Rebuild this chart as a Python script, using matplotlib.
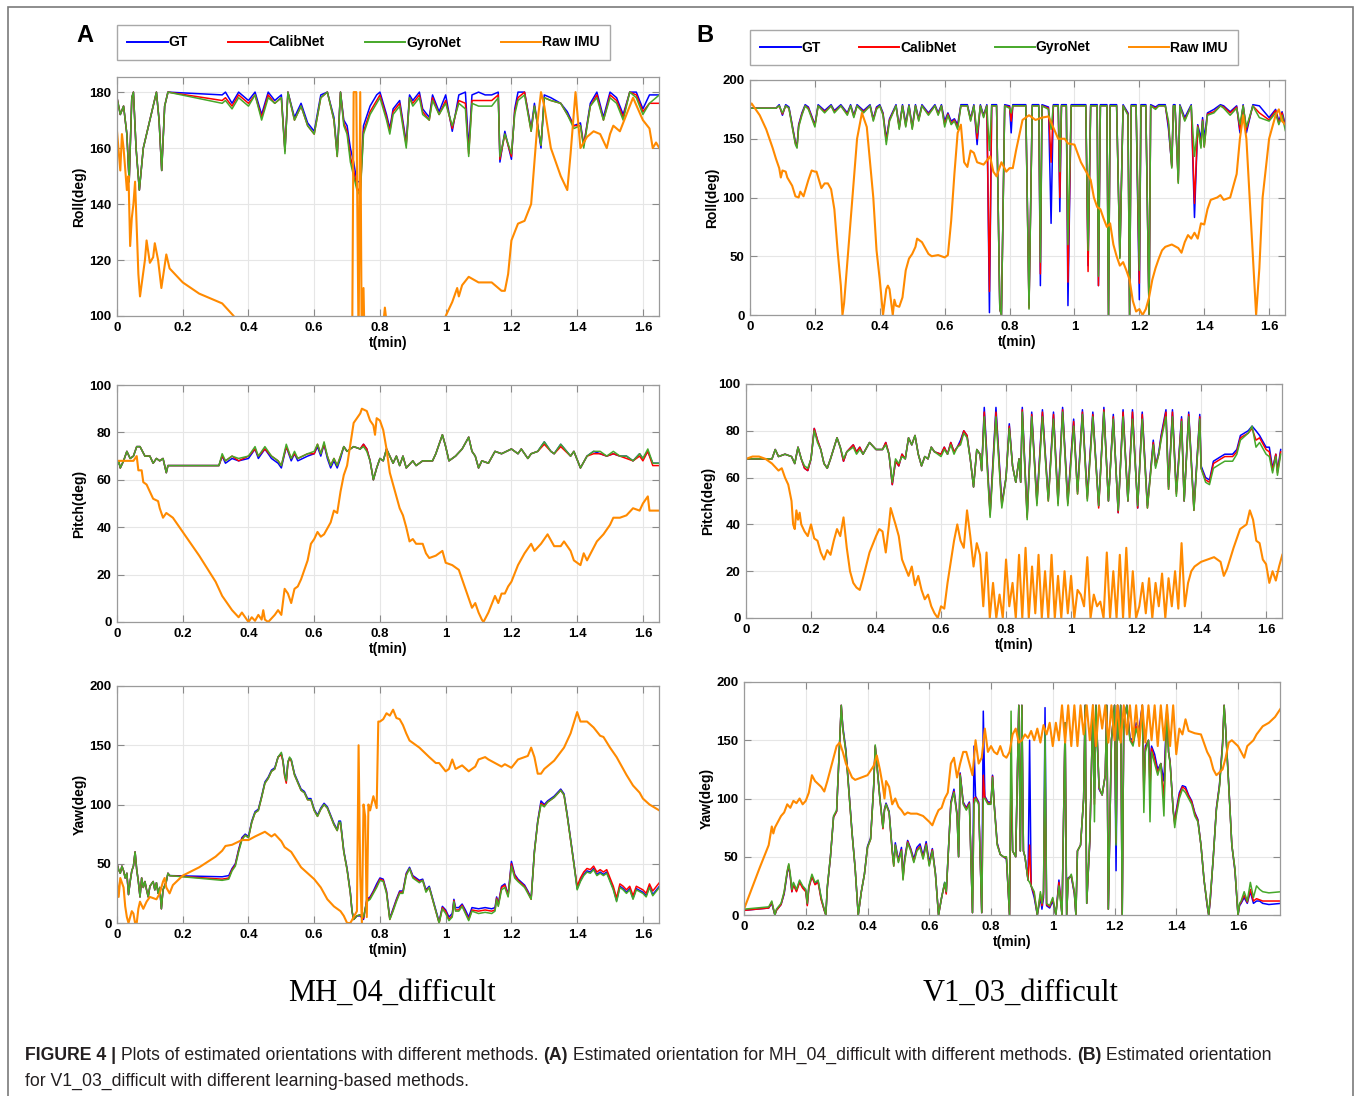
import numpy as np
import matplotlib
matplotlib.use('Agg')
import matplotlib.pyplot as plt
from matplotlib.lines import Line2D
from matplotlib.patches import Rectangle

# ---------------- data ----------------
# (A) MH_04_difficult : roll
t_roll_a = [0, 0.01, 0.02, 0.03, 0.037, 0.045, 0.05, 0.058, 0.068, 0.08,
            0.09, 0.1, 0.11, 0.12, 0.128, 0.136, 0.145, 0.155, 0.32, 0.33,
            0.35, 0.37, 0.4, 0.42, 0.44, 0.46, 0.48, 0.5, 0.511, 0.52,
            0.54, 0.56, 0.58, 0.6, 0.62, 0.64, 0.66, 0.67, 0.68, 0.69,
            0.7, 0.71, 0.72, 0.73, 0.74, 0.75, 0.77, 0.79, 0.8, 0.82,
            0.83, 0.84, 0.86, 0.88, 0.89, 0.9, 0.92, 0.93, 0.95, 0.96,
            0.98, 1.0, 1.02, 1.04, 1.06, 1.07, 1.08, 1.1, 1.12, 1.14,
            1.16, 1.165, 1.18, 1.2, 1.21, 1.22, 1.24, 1.26, 1.27, 1.29,
            1.3, 1.32, 1.35, 1.37, 1.39, 1.41, 1.42, 1.44, 1.46, 1.48,
            1.5, 1.52, 1.54, 1.56, 1.58, 1.6, 1.62, 1.65]
roll_a_gt = [178, 172, 175, 165, 148, 178, 180, 160, 145, 160,
             165, 170, 175, 180, 170, 152, 175, 180, 179, 180,
             176, 180, 177, 180, 172, 180, 177, 179, 159, 180,
             171, 176, 169, 166, 179, 180, 171, 158, 180, 170,
             168, 160, 155, 148, 148, 168, 175, 179, 180, 172,
             167, 174, 177, 162, 179, 177, 180, 174, 171, 179,
             173, 179, 166, 179, 180, 160, 179, 180, 179, 179,
             180, 155, 166, 156, 174, 180, 180, 167, 176, 160,
             179, 178, 176, 173, 168, 169, 161, 176, 180, 171,
             180, 178, 172, 180, 180, 174, 179, 179]
roll_a_calib = [178, 172, 175, 165, 148, 178, 180, 160, 145, 160,
                165, 170, 175, 180, 170, 152, 175, 180, 177, 178,
                175, 179, 176, 179, 171, 179, 176, 178, 159, 180,
                170, 175, 168, 165, 178, 180, 170, 157, 180, 169,
                166, 157, 152, 146, 144, 166, 173, 177, 179, 171,
                166, 173, 176, 161, 178, 176, 179, 173, 170, 178,
                172, 177, 167, 177, 176, 158, 177, 177, 177, 177,
                179, 156, 165, 157, 173, 178, 180, 166, 175, 161,
                178, 177, 176, 172, 168, 168, 161, 175, 179, 170,
                179, 177, 171, 180, 179, 173, 176, 176]
roll_a_gyro = [178, 172, 175, 165, 148, 178, 180, 160, 145, 160,
               165, 170, 175, 180, 170, 152, 175, 180, 176, 177,
               174, 178, 175, 179, 170, 178, 176, 178, 158, 180,
               170, 175, 168, 165, 178, 180, 170, 157, 180, 168,
               165, 155, 150, 145, 143, 165, 172, 176, 178, 170,
               165, 172, 175, 160, 178, 175, 178, 172, 170, 177,
               172, 176, 168, 176, 174, 157, 176, 175, 175, 175,
               178, 157, 165, 158, 172, 177, 179, 166, 175, 161,
               178, 177, 176, 172, 167, 168, 160, 175, 178, 170,
               178, 176, 170, 180, 178, 172, 176, 179]
t_roll_a_raw = [0, 0.01, 0.015, 0.02, 0.03, 0.035, 0.04, 0.045, 0.05, 0.055,
                0.065, 0.07, 0.085, 0.09, 0.1, 0.11, 0.115, 0.125, 0.135, 0.15,
                0.16, 0.2, 0.25, 0.3, 0.32, 0.355, 0.4, 0.6, 0.715, 0.72,
                0.728, 0.735, 0.74, 0.745, 0.75, 0.755, 0.8, 0.815, 0.82, 0.83,
                0.9, 0.99, 1.0, 1.02, 1.035, 1.04, 1.05, 1.07, 1.1, 1.14,
                1.15, 1.17, 1.18, 1.19, 1.2, 1.22, 1.24, 1.26, 1.27, 1.28,
                1.29, 1.3, 1.32, 1.35, 1.37, 1.38, 1.395, 1.41, 1.43, 1.45,
                1.47, 1.49, 1.5, 1.51, 1.53, 1.55, 1.57, 1.6, 1.62, 1.63,
                1.64, 1.65]
roll_a_raw = [166, 152, 165, 160, 145, 150, 125, 135, 140, 148,
              115, 107, 120, 127, 119, 121, 126, 120, 110, 122,
              117, 112, 108, 105.5, 104.5, 100, 80, 60, 80, 180,
              180, 90, 180, 80, 110, 80, 85, 103, 98, 85,
              80, 95, 100, 105, 110, 107, 111, 114, 112, 112,
              111, 109, 109, 115, 127, 133, 134, 140, 155, 170,
              180, 175, 160, 150, 145, 158, 180, 160, 164, 166,
              165, 160, 165, 168, 166, 172, 178, 170, 167, 160,
              162, 160]

# (A) pitch
t_pitch_a = [0, 0.005, 0.01, 0.02, 0.03, 0.04, 0.05, 0.06, 0.07, 0.085,
             0.1, 0.11, 0.12, 0.13, 0.14, 0.15, 0.155, 0.31, 0.32, 0.33,
             0.35, 0.37, 0.4, 0.42, 0.43, 0.45, 0.47, 0.49, 0.5, 0.515,
             0.53, 0.54, 0.55, 0.58, 0.6, 0.61, 0.62, 0.63, 0.64, 0.65,
             0.66, 0.67, 0.68, 0.69, 0.7, 0.72, 0.74, 0.75, 0.76, 0.77,
             0.78, 0.79, 0.8, 0.81, 0.82, 0.83, 0.84, 0.85, 0.86, 0.87,
             0.88, 0.9, 0.91, 0.93, 0.96, 0.97, 0.99, 1.0, 1.01, 1.03,
             1.05, 1.07, 1.08, 1.09, 1.1, 1.11, 1.13, 1.15, 1.17, 1.2,
             1.22, 1.23, 1.25, 1.26, 1.28, 1.3, 1.32, 1.33, 1.35, 1.38,
             1.39, 1.41, 1.43, 1.45, 1.47, 1.49, 1.51, 1.53, 1.55, 1.57,
             1.59, 1.6, 1.615, 1.63, 1.65]
pitch_a_gt = [66, 68, 65, 68, 72, 69, 70, 74, 74, 70,
              70, 67, 69, 68, 69, 63, 66, 66, 70, 67,
              69, 68, 69, 73, 69, 73, 69, 67, 65, 74,
              68, 71, 68, 70, 71, 74, 70, 75, 69, 65,
              68, 65, 69, 74, 72, 74, 73, 75, 73, 68,
              60, 65, 69, 68, 73, 70, 67, 70, 66, 70,
              65, 68, 66, 68, 68, 71, 79, 74, 68, 70,
              73, 78, 72, 70, 65, 68, 67, 72, 71, 73,
              71, 73, 69, 71, 72, 76, 72, 71, 75, 70,
              72, 65, 70, 72, 71, 70, 71, 70, 70, 68,
              71, 69, 72, 67, 67]
pitch_a_calib = [66, 68, 65, 68, 72, 69, 70, 74, 74, 70,
                 70, 67, 69, 68, 69, 63, 66, 66, 70, 68,
                 70, 68, 70, 73, 70, 73, 70, 68, 66, 74,
                 69, 71, 69, 71, 71, 75, 71, 75, 70, 66,
                 69, 66, 70, 74, 72, 74, 73, 75, 73, 68,
                 60, 65, 69, 68, 73, 70, 67, 70, 66, 70,
                 65, 68, 66, 68, 68, 71, 79, 74, 68, 70,
                 73, 78, 72, 70, 65, 68, 67, 72, 71, 73,
                 71, 73, 69, 71, 72, 75, 72, 71, 74, 70,
                 72, 65, 70, 71, 71, 70, 71, 70, 69, 68,
                 70, 68, 72, 66, 66]
pitch_a_gyro = [66, 68, 65, 68, 72, 69, 70, 74, 74, 70,
                70, 67, 69, 68, 69, 63, 66, 66, 71, 68,
                70, 69, 70, 74, 70, 74, 70, 68, 66, 75,
                69, 72, 69, 71, 72, 75, 71, 76, 70, 66,
                69, 66, 70, 74, 72, 74, 73, 74, 72, 68,
                60, 65, 69, 68, 73, 70, 67, 70, 66, 70,
                65, 68, 66, 68, 68, 71, 79, 74, 68, 70,
                73, 78, 72, 70, 65, 68, 67, 72, 71, 73,
                71, 73, 69, 71, 72, 76, 72, 71, 75, 70,
                72, 65, 70, 72, 72, 70, 72, 70, 70, 68,
                71, 69, 73, 67, 67]
t_pitch_a_raw = [0, 0.05, 0.06, 0.065, 0.075, 0.08, 0.09, 0.1, 0.11, 0.125,
                 0.13, 0.14, 0.15, 0.17, 0.2, 0.25, 0.3, 0.32, 0.35, 0.37,
                 0.38, 0.39, 0.4, 0.41, 0.42, 0.43, 0.44, 0.445, 0.45, 0.46,
                 0.48, 0.49, 0.5, 0.51, 0.52, 0.53, 0.54, 0.55, 0.56, 0.58,
                 0.59, 0.6, 0.61, 0.62, 0.63, 0.65, 0.66, 0.67, 0.68, 0.69,
                 0.7, 0.71, 0.72, 0.74, 0.745, 0.76, 0.77, 0.78, 0.785, 0.79,
                 0.8, 0.81, 0.82, 0.83, 0.84, 0.86, 0.87, 0.88, 0.89, 0.9,
                 0.91, 0.93, 0.94, 0.95, 0.97, 0.99, 1.0, 1.02, 1.03, 1.04,
                 1.06, 1.08, 1.09, 1.1, 1.11, 1.115, 1.13, 1.15, 1.16, 1.17,
                 1.18, 1.19, 1.2, 1.22, 1.24, 1.26, 1.27, 1.29, 1.31, 1.33,
                 1.35, 1.36, 1.38, 1.39, 1.41, 1.42, 1.43, 1.46, 1.48, 1.5,
                 1.51, 1.53, 1.55, 1.57, 1.59, 1.6, 1.615, 1.62, 1.63, 1.65]
pitch_a_raw = [68, 68, 70, 64, 64, 59, 58, 55, 52, 51,
               48, 44, 46, 44, 38, 28, 17, 11, 5, 2,
               4, 2, 0, 2, 0.5, 3, 1, 5, 1, 0,
               3, 5, 3, 14, 12, 8, 14, 15, 18, 26,
               33, 35, 38, 36, 37, 42, 47, 46, 55, 62,
               66, 75, 84, 88, 90, 89, 85, 83, 79, 86,
               85, 81, 73, 63, 58, 48, 45, 40, 34, 35,
               33, 33, 29, 27, 28, 30, 25, 24, 23, 22,
               14, 6, 8, 4, 1, 0, 4, 11, 8, 12,
               12, 15, 17, 24, 29, 33, 30, 33, 37, 32,
               32, 34, 30, 26, 24, 29, 26, 34, 37, 41,
               44, 44, 45, 48, 47, 50, 53, 47, 47, 47]

# (A) yaw
t_yaw_a = [0, 0.005, 0.01, 0.015, 0.02, 0.025, 0.03, 0.035, 0.04, 0.045,
           0.05, 0.055, 0.06, 0.065, 0.07, 0.075, 0.08, 0.085, 0.09, 0.095,
           0.1, 0.11, 0.115, 0.12, 0.125, 0.13, 0.135, 0.14, 0.15, 0.155,
           0.16, 0.32, 0.34, 0.35, 0.36, 0.37, 0.38, 0.39, 0.4, 0.41,
           0.42, 0.43, 0.44, 0.45, 0.46, 0.47, 0.48, 0.49, 0.5, 0.505,
           0.51, 0.515, 0.52, 0.525, 0.53, 0.54, 0.56, 0.57, 0.58, 0.59,
           0.6, 0.61, 0.62, 0.63, 0.64, 0.65, 0.66, 0.67, 0.675, 0.68,
           0.69, 0.7, 0.71, 0.715, 0.72, 0.73, 0.74, 0.75, 0.76, 0.77,
           0.78, 0.79, 0.8, 0.81, 0.82, 0.83, 0.84, 0.85, 0.86, 0.87,
           0.88, 0.89, 0.9, 0.91, 0.92, 0.93, 0.94, 0.95, 0.96, 0.97,
           0.98, 0.99, 1.0, 1.01, 1.02, 1.025, 1.03, 1.04, 1.05, 1.06,
           1.07, 1.08, 1.1, 1.12, 1.14, 1.15, 1.155, 1.16, 1.17, 1.18,
           1.19, 1.2, 1.21, 1.22, 1.24, 1.25, 1.26, 1.27, 1.28, 1.29,
           1.3, 1.31, 1.33, 1.35, 1.36, 1.37, 1.38, 1.39, 1.4, 1.41,
           1.42, 1.43, 1.44, 1.45, 1.46, 1.47, 1.48, 1.49, 1.5, 1.51,
           1.52, 1.53, 1.54, 1.55, 1.56, 1.57, 1.58, 1.6, 1.61, 1.62,
           1.63, 1.65]
yaw_a_gt = [50, 45, 42, 48, 44, 38, 42, 24, 35, 44,
            48, 60, 45, 35, 22, 38, 30, 35, 28, 22,
            31, 35, 28, 34, 25, 30, 12, 28, 35, 42,
            40, 39, 40, 46, 50, 62, 72, 75, 73, 86,
            94, 96, 107, 119, 123, 129, 131, 140, 143, 137,
            126, 120, 136, 139, 138, 126, 113, 111, 105, 105,
            96, 91, 97, 101, 98, 91, 84, 79, 86, 86,
            61, 46, 26, 10, 3, 6, 6, 3, 20, 22,
            27, 33, 38, 37, 27, 4, 12, 20, 27, 27,
            42, 47, 40, 38, 36, 37, 28, 31, 21, 11,
            1, 14, 11, 5, 8, 20, 13, 13, 16, 11,
            5, 13, 12, 13, 12, 13, 22, 16, 31, 33,
            24, 52, 41, 37, 32, 27, 21, 61, 86, 103,
            100, 103, 107, 113, 109, 91, 71, 51, 29, 36,
            41, 44, 43, 46, 41, 43, 41, 43, 36, 29,
            19, 31, 29, 26, 29, 21, 29, 26, 23, 31,
            24, 31]
yaw_a_calib = [50, 45, 42, 48, 44, 38, 42, 24, 35, 44,
               48, 60, 45, 35, 22, 38, 30, 35, 28, 22,
               31, 35, 28, 34, 25, 30, 12, 28, 35, 42,
               40, 37, 38, 45, 49, 61, 71, 74, 72, 85,
               93, 95, 106, 118, 122, 128, 130, 140, 142, 136,
               124, 118, 135, 139, 137, 125, 112, 110, 104, 104,
               95, 90, 96, 100, 97, 90, 83, 78, 84, 84,
               60, 45, 25, 10, 3, 6, 7, 4, 19, 21,
               26, 31, 37, 36, 26, 3, 11, 19, 26, 26,
               41, 46, 39, 37, 35, 36, 27, 30, 20, 10,
               0, 13, 10, 3, 6, 19, 11, 11, 15, 9,
               3, 11, 10, 11, 10, 11, 21, 15, 30, 32,
               23, 50, 40, 36, 31, 26, 20, 60, 85, 101,
               99, 102, 106, 112, 108, 90, 70, 50, 31, 38,
               43, 46, 45, 48, 43, 45, 43, 45, 38, 31,
               21, 33, 31, 28, 31, 23, 31, 28, 25, 33,
               27, 34]
yaw_a_gyro = [50, 45, 42, 48, 44, 38, 42, 24, 35, 44,
              48, 60, 45, 35, 22, 38, 30, 35, 28, 22,
              31, 35, 28, 34, 25, 30, 12, 28, 35, 42,
              40, 36, 37, 44, 48, 60, 70, 74, 72, 85,
              93, 95, 106, 118, 122, 128, 130, 140, 144, 137,
              125, 120, 136, 140, 138, 125, 112, 110, 104, 104,
              95, 90, 96, 100, 97, 90, 83, 78, 85, 85,
              60, 45, 25, 10, 3, 6, 7, 5, 18, 20,
              25, 30, 36, 35, 25, 3, 10, 18, 25, 25,
              40, 46, 38, 36, 34, 36, 26, 30, 20, 10,
              0, 12, 8, 2, 5, 18, 10, 10, 14, 8,
              2, 10, 8, 9, 8, 10, 20, 14, 28, 30,
              22, 48, 38, 35, 30, 25, 20, 60, 85, 100,
              98, 102, 106, 112, 108, 90, 70, 50, 28, 35,
              40, 43, 42, 45, 40, 42, 40, 42, 35, 28,
              18, 30, 28, 25, 28, 20, 28, 25, 22, 30,
              23, 30]
t_yaw_a_raw = [0, 0.005, 0.01, 0.02, 0.025, 0.03, 0.035, 0.04, 0.045, 0.05,
               0.055, 0.06, 0.065, 0.07, 0.08, 0.09, 0.1, 0.12, 0.13, 0.14,
               0.145, 0.15, 0.16, 0.17, 0.2, 0.25, 0.3, 0.32, 0.33, 0.35,
               0.38, 0.4, 0.42, 0.45, 0.47, 0.48, 0.5, 0.51, 0.53, 0.56,
               0.58, 0.6, 0.62, 0.64, 0.66, 0.68, 0.69, 0.7, 0.71, 0.72,
               0.73, 0.735, 0.74, 0.745, 0.75, 0.755, 0.76, 0.765, 0.77, 0.78,
               0.79, 0.795, 0.8, 0.81, 0.82, 0.83, 0.84, 0.85, 0.86, 0.87,
               0.88, 0.89, 0.9, 0.92, 0.95, 0.97, 0.98, 1.0, 1.01, 1.02,
               1.03, 1.05, 1.07, 1.09, 1.1, 1.12, 1.13, 1.15, 1.17, 1.18,
               1.2, 1.22, 1.25, 1.26, 1.27, 1.28, 1.29, 1.3, 1.33, 1.36,
               1.38, 1.4, 1.41, 1.43, 1.45, 1.47, 1.48, 1.5, 1.52, 1.53,
               1.55, 1.57, 1.59, 1.6, 1.62, 1.65]
yaw_a_raw = [35, 22, 38, 30, 14, 5, 0, 5, 10, 8,
             0, 0, 12, 18, 12, 18, 22, 20, 25, 35,
             38, 30, 25, 32, 40, 47, 56, 61, 65, 66,
             70, 70, 73, 77, 73, 75, 69, 64, 60, 47,
             42, 37, 30, 20, 14, 10, 6, 0, 0, 5,
             10, 150, 40, 0, 100, 90, 5, 100, 95, 107,
             97, 170, 170, 172, 177, 175, 180, 173, 172, 167,
             160, 154, 152, 148, 140, 135, 135, 128, 130, 138,
             130, 133, 128, 132, 138, 140, 138, 135, 132, 134,
             131, 138, 141, 148, 140, 126, 126, 130, 137, 148,
             160, 178, 170, 170, 165, 158, 157, 148, 140, 135,
             125, 116, 110, 105, 100, 95]

# (B) V1_03_difficult : roll
t_roll_b = [0, 0.08, 0.09, 0.1, 0.11, 0.12, 0.13, 0.14, 0.145, 0.15,
            0.16, 0.17, 0.18, 0.2, 0.21, 0.23, 0.25, 0.26, 0.28, 0.3,
            0.31, 0.32, 0.33, 0.35, 0.37, 0.38, 0.39, 0.4, 0.41, 0.42,
            0.43, 0.45, 0.46, 0.47, 0.48, 0.49, 0.5, 0.51, 0.52, 0.53,
            0.55, 0.57, 0.58, 0.59, 0.6, 0.61, 0.62, 0.63, 0.64, 0.65,
            0.67, 0.68, 0.69, 0.7, 0.71, 0.72, 0.73, 0.738, 0.745, 0.76,
            0.77, 0.775, 0.785, 0.8, 0.805, 0.81, 0.85, 0.86, 0.87, 0.89,
            0.895, 0.9, 0.92, 0.928, 0.935, 0.95, 0.955, 0.96, 0.975, 0.98,
            0.99, 1.02, 1.035, 1.042, 1.05, 1.07, 1.074, 1.08, 1.1, 1.105,
            1.11, 1.13, 1.14, 1.15, 1.165, 1.17, 1.175, 1.19, 1.2, 1.205,
            1.22, 1.23, 1.235, 1.25, 1.26, 1.28, 1.29, 1.3, 1.305, 1.31,
            1.32, 1.325, 1.34, 1.36, 1.37, 1.38, 1.39, 1.395, 1.4, 1.41,
            1.43, 1.45, 1.46, 1.48, 1.5, 1.51, 1.52, 1.53, 1.55, 1.57,
            1.6, 1.62, 1.63, 1.64, 1.65]
roll_b_gt = [176, 176, 179, 170, 179, 177, 162, 147, 144, 162,
             172, 179, 177, 162, 179, 174, 179, 174, 179, 172,
             179, 170, 179, 174, 179, 167, 177, 179, 172, 150,
             167, 179, 160, 179, 163, 179, 160, 179, 167, 179,
             172, 179, 172, 179, 165, 172, 165, 167, 162, 179,
             179, 167, 179, 145, 179, 170, 179, 2, 179, 179,
             5, 0, 179, 178, 155, 179, 179, 8, 179, 179,
             25, 179, 177, 78, 179, 179, 88, 179, 179, 8,
             179, 179, 179, 42, 179, 179, 25, 179, 179, 0,
             179, 179, 50, 179, 172, 0, 179, 179, 13, 179,
             179, 0, 179, 177, 179, 179, 158, 127, 179, 179,
             115, 179, 168, 179, 83, 162, 150, 168, 150, 172,
             175, 179, 178, 173, 178, 155, 179, 155, 179, 178,
             168, 175, 165, 173, 162]
roll_b_calib = [176, 176, 178, 171, 178, 176, 161, 146, 143, 161,
                171, 178, 176, 161, 178, 173, 178, 173, 178, 171,
                178, 169, 178, 173, 178, 166, 176, 178, 171, 148,
                166, 178, 159, 178, 161, 178, 159, 178, 166, 178,
                171, 178, 171, 178, 162, 171, 163, 166, 160, 178,
                178, 166, 178, 150, 178, 169, 178, 20, 178, 178,
                5, 0, 178, 177, 165, 178, 178, 6, 178, 178,
                35, 178, 176, 130, 178, 178, 100, 178, 178, 28,
                178, 178, 178, 37, 178, 178, 25, 178, 178, 0,
                178, 178, 49, 178, 171, 0, 178, 178, 27, 178,
                178, 0, 178, 176, 178, 178, 162, 126, 178, 178,
                113, 178, 166, 178, 95, 161, 144, 166, 143, 171,
                173, 178, 177, 172, 177, 158, 178, 158, 178, 172,
                166, 174, 163, 172, 160]
roll_b_gyro = [176, 176, 178, 172, 178, 176, 160, 145, 142, 160,
               170, 178, 175, 160, 178, 172, 178, 172, 178, 170,
               178, 168, 178, 172, 178, 165, 175, 178, 170, 145,
               165, 178, 158, 178, 160, 178, 158, 178, 165, 178,
               170, 178, 170, 178, 160, 170, 162, 165, 158, 178,
               178, 165, 178, 155, 178, 168, 178, 140, 178, 178,
               5, 0, 178, 176, 172, 178, 178, 5, 178, 178,
               45, 178, 175, 158, 178, 178, 122, 178, 178, 60,
               178, 178, 178, 55, 178, 178, 33, 178, 178, 0,
               178, 178, 48, 178, 170, 0, 178, 178, 38, 178,
               178, 0, 178, 175, 178, 178, 165, 125, 178, 178,
               112, 178, 165, 178, 135, 160, 142, 165, 143, 170,
               172, 178, 176, 170, 176, 162, 178, 160, 178, 168,
               165, 172, 162, 170, 157]
t_roll_b_raw = [0, 0.005, 0.01, 0.03, 0.05, 0.07, 0.08, 0.09, 0.095, 0.1,
                0.11, 0.115, 0.13, 0.14, 0.15, 0.155, 0.165, 0.18, 0.19, 0.2,
                0.205, 0.22, 0.23, 0.24, 0.25, 0.26, 0.27, 0.28, 0.285, 0.29,
                0.31, 0.33, 0.345, 0.36, 0.37, 0.38, 0.39, 0.4, 0.41, 0.42,
                0.425, 0.43, 0.44, 0.445, 0.45, 0.46, 0.47, 0.48, 0.49, 0.5,
                0.51, 0.515, 0.53, 0.55, 0.56, 0.58, 0.6, 0.61, 0.62, 0.63,
                0.64, 0.65, 0.66, 0.67, 0.68, 0.69, 0.7, 0.72, 0.74, 0.75,
                0.76, 0.775, 0.79, 0.8, 0.81, 0.82, 0.84, 0.86, 0.88, 0.9,
                0.92, 0.95, 0.97, 0.98, 1.0, 1.02, 1.04, 1.05, 1.06, 1.07,
                1.08, 1.09, 1.1, 1.11, 1.12, 1.13, 1.14, 1.15, 1.16, 1.17,
                1.18, 1.19, 1.2, 1.21, 1.22, 1.23, 1.24, 1.25, 1.26, 1.27,
                1.28, 1.3, 1.32, 1.33, 1.34, 1.35, 1.36, 1.37, 1.38, 1.39,
                1.4, 1.41, 1.42, 1.44, 1.45, 1.46, 1.48, 1.5, 1.51, 1.52,
                1.53, 1.54, 1.55, 1.56, 1.57, 1.58, 1.6, 1.62, 1.63, 1.64,
                1.65]
roll_b_raw = [178, 180, 178, 170, 158, 142, 133, 125, 117, 123,
              122, 117, 110, 101, 100, 105, 101, 115, 123, 122,
              122, 108, 112, 112, 107, 90, 55, 25, 0, 10,
              80, 150, 172, 160, 130, 100, 55, 30, 0, 22,
              25, 22, 0, 13, 8, 7, 15, 38, 48, 52,
              58, 65, 62, 52, 50, 51, 49, 51, 80, 120,
              155, 162, 130, 126, 140, 138, 130, 128, 135, 122,
              118, 130, 122, 125, 125, 140, 166, 170, 166, 168,
              169, 150, 150, 146, 145, 130, 120, 115, 100, 92,
              90, 82, 75, 78, 60, 50, 42, 45, 38, 30,
              12, 3, 5, 0, 5, 15, 30, 40, 48, 55,
              58, 60, 57, 53, 62, 68, 65, 70, 65, 78,
              77, 90, 98, 100, 102, 98, 100, 120, 150, 170,
              150, 100, 50, 0, 40, 100, 150, 170, 175, 165,
              162]

# (B) pitch
t_pitch_b = [0, 0.08, 0.09, 0.1, 0.12, 0.14, 0.15, 0.16, 0.17, 0.18,
             0.19, 0.2, 0.21, 0.22, 0.23, 0.24, 0.25, 0.26, 0.28, 0.29,
             0.3, 0.31, 0.33, 0.34, 0.35, 0.36, 0.38, 0.4, 0.42, 0.43,
             0.44, 0.45, 0.46, 0.47, 0.48, 0.49, 0.5, 0.51, 0.52, 0.53,
             0.54, 0.55, 0.56, 0.57, 0.58, 0.6, 0.61, 0.62, 0.63, 0.64,
             0.65, 0.66, 0.67, 0.68, 0.69, 0.7, 0.71, 0.72, 0.725, 0.733,
             0.751, 0.769, 0.787, 0.8, 0.81, 0.82, 0.83, 0.84, 0.845, 0.85,
             0.865, 0.879, 0.895, 0.912, 0.93, 0.946, 0.96, 0.974, 0.99, 1.008,
             1.02, 1.035, 1.05, 1.067, 1.085, 1.101, 1.115, 1.13, 1.145, 1.16,
             1.175, 1.189, 1.205, 1.219, 1.235, 1.253, 1.26, 1.27, 1.277, 1.292,
             1.3, 1.312, 1.324, 1.34, 1.348, 1.362, 1.378, 1.396, 1.4, 1.414,
             1.426, 1.438, 1.461, 1.473, 1.497, 1.51, 1.521, 1.545, 1.557, 1.569,
             1.58, 1.6, 1.61, 1.62, 1.63, 1.635, 1.645]
pitch_b_gt = [68, 68, 72, 69, 70, 69, 66, 73, 68, 64,
              63, 68, 81, 76, 72, 66, 64, 68, 77, 73,
              67, 71, 74, 71, 73, 70, 75, 72, 72, 75,
              70, 57, 67, 65, 70, 68, 77, 74, 78, 70,
              65, 69, 68, 73, 71, 70, 73, 70, 75, 71,
              73, 76, 80, 78, 68, 56, 72, 70, 63, 90,
              45, 90, 49, 60, 83, 65, 58, 68, 58, 90,
              44, 88, 50, 89, 51, 88, 50, 90, 50, 85,
              54, 89, 52, 88, 48, 90, 50, 87, 45, 89,
              50, 89, 47, 88, 48, 76, 65, 71, 78, 89,
              56, 89, 54, 86, 50, 88, 47, 87, 65, 60,
              59, 67, 69, 70, 70, 72, 78, 80, 82, 80,
              78, 73, 73, 64, 70, 63, 72]
pitch_b_calib = [68, 68, 72, 69, 70, 69, 66, 73, 68, 64,
                 63, 68, 81, 76, 72, 66, 64, 68, 77, 73,
                 67, 71, 74, 71, 73, 70, 75, 72, 72, 75,
                 70, 57, 67, 65, 70, 68, 77, 74, 78, 70,
                 65, 69, 68, 73, 71, 70, 73, 70, 75, 71,
                 73, 75, 80, 78, 68, 56, 72, 70, 63, 88,
                 44, 88, 48, 60, 82, 65, 58, 68, 58, 89,
                 43, 87, 49, 88, 50, 87, 49, 89, 49, 84,
                 53, 88, 51, 87, 47, 89, 50, 86, 45, 88,
                 50, 88, 47, 87, 47, 75, 65, 70, 77, 88,
                 55, 88, 53, 85, 50, 87, 46, 86, 64, 59,
                 58, 66, 68, 69, 69, 71, 77, 79, 81, 76,
                 77, 72, 71, 63, 70, 62, 71]
pitch_b_gyro = [68, 68, 72, 69, 70, 69, 66, 73, 68, 65,
                64, 68, 80, 75, 72, 66, 64, 68, 77, 73,
                68, 71, 73, 70, 72, 70, 75, 72, 72, 74,
                70, 58, 68, 66, 69, 68, 77, 74, 78, 70,
                65, 69, 68, 73, 71, 69, 72, 70, 74, 70,
                73, 74, 79, 77, 68, 56, 72, 70, 63, 86,
                43, 86, 47, 60, 81, 65, 58, 68, 58, 88,
                42, 86, 48, 86, 50, 85, 48, 88, 48, 82,
                53, 87, 50, 86, 48, 88, 50, 85, 46, 86,
                50, 85, 48, 85, 47, 74, 64, 70, 76, 86,
                55, 86, 52, 84, 50, 86, 46, 85, 64, 58,
                57, 64, 66, 67, 67, 70, 76, 79, 82, 73,
                75, 70, 69, 62, 69, 61, 70]
t_pitch_b_raw = [0, 0.02, 0.04, 0.06, 0.08, 0.1, 0.11, 0.12, 0.13, 0.14,
                 0.145, 0.15, 0.155, 0.16, 0.165, 0.17, 0.18, 0.19, 0.2, 0.21,
                 0.22, 0.23, 0.24, 0.25, 0.26, 0.27, 0.28, 0.29, 0.3, 0.31,
                 0.32, 0.33, 0.34, 0.35, 0.36, 0.38, 0.4, 0.41, 0.42, 0.43,
                 0.44, 0.445, 0.46, 0.47, 0.48, 0.5, 0.51, 0.52, 0.53, 0.54,
                 0.55, 0.56, 0.57, 0.58, 0.59, 0.6, 0.61, 0.62, 0.64, 0.65,
                 0.66, 0.67, 0.68, 0.69, 0.7, 0.71, 0.72, 0.73, 0.74, 0.75,
                 0.76, 0.77, 0.78, 0.79, 0.8, 0.81, 0.82, 0.83, 0.84, 0.85,
                 0.86, 0.87, 0.88, 0.89, 0.9, 0.91, 0.92, 0.93, 0.94, 0.95,
                 0.96, 0.97, 0.98, 0.99, 1.0, 1.01, 1.02, 1.03, 1.04, 1.05,
                 1.06, 1.07, 1.08, 1.09, 1.1, 1.11, 1.12, 1.13, 1.14, 1.15,
                 1.16, 1.17, 1.18, 1.19, 1.2, 1.21, 1.22, 1.23, 1.24, 1.25,
                 1.26, 1.27, 1.28, 1.29, 1.3, 1.31, 1.32, 1.33, 1.34, 1.35,
                 1.36, 1.37, 1.38, 1.39, 1.4, 1.42, 1.44, 1.46, 1.47, 1.48,
                 1.5, 1.52, 1.54, 1.55, 1.56, 1.57, 1.58, 1.59, 1.6, 1.61,
                 1.62, 1.63, 1.64, 1.65]
pitch_b_raw = [68, 69, 69, 68, 66, 63, 64, 60, 57, 50,
               40, 38, 46, 42, 45, 40, 37, 35, 40, 34,
               33, 28, 25, 29, 27, 33, 38, 35, 43, 30,
               20, 15, 13, 12, 17, 28, 35, 38, 37, 28,
               40, 47, 40, 35, 25, 18, 22, 14, 18, 12,
               8, 10, 5, 2, 0, 5, 4, 15, 33, 40,
               33, 30, 46, 35, 22, 32, 27, 5, 28, 0,
               15, 0, 10, 0, 25, 5, 15, 0, 27, 0,
               30, 0, 22, 2, 27, 0, 20, 0, 27, 0,
               18, 0, 20, 2, 18, 0, 12, 10, 5, 26,
               0, 10, 5, 7, 0, 28, 0, 20, 0, 27,
               0, 30, 0, 20, 0, 5, 15, 2, 17, 0,
               15, 5, 19, 0, 17, 5, 20, 4, 32, 5,
               15, 20, 22, 23, 24, 25, 26, 24, 18, 21,
               30, 38, 40, 46, 42, 33, 32, 25, 23, 15,
               20, 16, 22, 27]

# (B) yaw
t_yaw_b = [0, 0.08, 0.09, 0.1, 0.105, 0.12, 0.13, 0.14, 0.145, 0.15,
           0.155, 0.16, 0.17, 0.18, 0.19, 0.2, 0.205, 0.21, 0.22, 0.23,
           0.24, 0.25, 0.26, 0.265, 0.27, 0.28, 0.29, 0.3, 0.31, 0.315,
           0.32, 0.33, 0.34, 0.35, 0.36, 0.37, 0.38, 0.39, 0.4, 0.41,
           0.42, 0.425, 0.43, 0.44, 0.45, 0.455, 0.46, 0.47, 0.48, 0.485,
           0.49, 0.5, 0.51, 0.515, 0.52, 0.53, 0.54, 0.55, 0.56, 0.57,
           0.58, 0.59, 0.6, 0.61, 0.62, 0.63, 0.64, 0.65, 0.655, 0.66,
           0.67, 0.68, 0.69, 0.695, 0.7, 0.71, 0.72, 0.73, 0.74, 0.745,
           0.75, 0.76, 0.77, 0.775, 0.78, 0.79, 0.8, 0.805, 0.81, 0.82,
           0.83, 0.84, 0.85, 0.86, 0.865, 0.87, 0.88, 0.89, 0.895, 0.9,
           0.905, 0.91, 0.92, 0.925, 0.93, 0.94, 0.95, 0.96, 0.965, 0.97,
           0.975, 0.98, 0.99, 1.0, 1.01, 1.02, 1.03, 1.04, 1.045, 1.05,
           1.06, 1.07, 1.075, 1.08, 1.09, 1.1, 1.105, 1.11, 1.12, 1.13,
           1.135, 1.14, 1.15, 1.16, 1.17, 1.175, 1.18, 1.19, 1.2, 1.205,
           1.21, 1.215, 1.22, 1.225, 1.23, 1.24, 1.25, 1.26, 1.27, 1.28,
           1.29, 1.295, 1.3, 1.31, 1.315, 1.32, 1.33, 1.34, 1.35, 1.36,
           1.37, 1.375, 1.38, 1.39, 1.395, 1.4, 1.41, 1.42, 1.43, 1.44,
           1.45, 1.46, 1.47, 1.48, 1.49, 1.5, 1.505, 1.51, 1.52, 1.53,
           1.54, 1.55, 1.555, 1.56, 1.57, 1.58, 1.59, 1.6, 1.605, 1.61,
           1.62, 1.63, 1.64, 1.65, 1.66, 1.67, 1.68, 1.7, 1.74]
yaw_b_gt = [4, 6, 10, 0, 4, 9, 18, 36, 42, 33,
            20, 27, 21, 29, 24, 21, 9, 24, 33, 27,
            29, 14, 4, 0, 24, 50, 84, 89, 150, 180,
            162, 142, 106, 71, 40, 0, 20, 35, 59, 66,
            111, 145, 131, 101, 75, 91, 96, 89, 56, 44,
            62, 47, 58, 33, 48, 64, 57, 48, 58, 61,
            51, 63, 45, 57, 36, 0, 15, 28, 19, 45,
            97, 108, 87, 50, 122, 97, 92, 97, 2, 145,
            102, 97, 2, 175, 102, 97, 97, 120, 97, 62,
            52, 50, 48, 0, 120, 55, 50, 180, 55, 180,
            55, 50, 30, 150, 25, 15, 0, 15, 5, 15,
            178, 8, 6, 12, 0, 30, 0, 165, 0, 32,
            33, 18, 0, 55, 60, 100, 180, 10, 63, 180,
            100, 180, 108, 103, 120, 180, 5, 150, 180, 38,
            180, 152, 180, 0, 165, 180, 152, 150, 165, 160,
            180, 110, 145, 150, 130, 145, 138, 125, 130, 115,
            180, 140, 132, 90, 80, 90, 105, 111, 110, 103,
            98, 88, 82, 60, 30, 8, 0, 12, 50, 92,
            112, 148, 180, 160, 112, 60, 38, 0, 8, 10,
            15, 10, 20, 10, 12, 12, 10, 9, 10]
yaw_b_calib = [4, 6, 11, 0, 4, 9, 19, 37, 43, 33,
               20, 26, 20, 28, 23, 20, 8, 23, 33, 26,
               28, 13, 4, 0, 24, 50, 84, 89, 150, 180,
               160, 140, 105, 70, 40, 0, 20, 35, 58, 65,
               110, 145, 130, 100, 74, 90, 95, 88, 54, 42,
               60, 46, 56, 31, 46, 63, 56, 46, 56, 59,
               49, 61, 43, 56, 35, 0, 15, 27, 18, 44,
               96, 106, 86, 50, 121, 96, 91, 96, 2, 100,
               101, 96, 2, 120, 101, 96, 96, 119, 96, 61,
               52, 50, 49, 0, 130, 55, 50, 180, 55, 180,
               55, 50, 30, 60, 25, 18, 0, 18, 8, 18,
               130, 9, 7, 14, 0, 28, 0, 165, 0, 31,
               34, 19, 0, 55, 60, 100, 180, 10, 64, 180,
               95, 180, 109, 103, 120, 180, 5, 150, 180, 62,
               180, 151, 180, 0, 165, 180, 151, 147, 162, 155,
               180, 100, 143, 150, 110, 143, 134, 122, 130, 100,
               180, 140, 131, 90, 78, 88, 103, 110, 108, 102,
               97, 87, 81, 60, 30, 9, 0, 13, 50, 91,
               111, 147, 180, 160, 111, 60, 39, 0, 9, 11,
               17, 11, 22, 12, 14, 13, 12, 12, 12]
yaw_b_gyro = [5, 7, 12, 0, 5, 10, 20, 38, 44, 35,
              22, 28, 22, 30, 25, 22, 10, 25, 35, 28,
              30, 15, 5, 0, 25, 50, 85, 90, 150, 180,
              160, 140, 105, 70, 40, 0, 20, 35, 58, 65,
              110, 146, 130, 100, 75, 90, 95, 88, 55, 42,
              60, 45, 55, 30, 45, 62, 55, 45, 55, 58,
              48, 60, 42, 55, 35, 0, 15, 28, 20, 45,
              95, 105, 85, 50, 120, 95, 90, 95, 2, 95,
              100, 95, 2, 100, 100, 95, 95, 118, 95, 60,
              52, 50, 50, 0, 175, 55, 50, 180, 55, 180,
              55, 50, 30, 28, 25, 20, 0, 20, 10, 20,
              160, 10, 8, 15, 0, 25, 0, 165, 0, 30,
              35, 20, 0, 55, 60, 100, 180, 10, 65, 180,
              80, 180, 110, 103, 120, 180, 5, 150, 180, 60,
              180, 150, 180, 0, 165, 180, 150, 145, 160, 150,
              180, 88, 140, 150, 80, 140, 130, 120, 130, 85,
              180, 140, 130, 90, 75, 85, 100, 108, 105, 100,
              95, 85, 80, 60, 30, 10, 0, 15, 50, 90,
              110, 145, 180, 160, 110, 60, 40, 0, 10, 12,
              20, 12, 28, 15, 25, 22, 20, 19, 20]
t_yaw_b_raw = [0, 0.05, 0.08, 0.09, 0.095, 0.1, 0.11, 0.12, 0.13, 0.14,
               0.15, 0.16, 0.17, 0.18, 0.19, 0.2, 0.21, 0.22, 0.23, 0.25,
               0.26, 0.27, 0.28, 0.29, 0.3, 0.31, 0.32, 0.33, 0.35, 0.36,
               0.38, 0.4, 0.42, 0.43, 0.44, 0.45, 0.455, 0.46, 0.47, 0.48,
               0.49, 0.5, 0.51, 0.52, 0.53, 0.54, 0.56, 0.58, 0.6, 0.61,
               0.62, 0.63, 0.64, 0.65, 0.66, 0.67, 0.68, 0.69, 0.7, 0.71,
               0.72, 0.73, 0.74, 0.75, 0.76, 0.77, 0.78, 0.79, 0.8, 0.81,
               0.82, 0.83, 0.84, 0.85, 0.86, 0.87, 0.88, 0.89, 0.9, 0.91,
               0.92, 0.93, 0.94, 0.95, 0.96, 0.97, 0.98, 0.99, 1.0, 1.01,
               1.02, 1.03, 1.04, 1.05, 1.06, 1.07, 1.08, 1.09, 1.1, 1.11,
               1.12, 1.13, 1.14, 1.15, 1.16, 1.17, 1.18, 1.19, 1.2, 1.21,
               1.22, 1.23, 1.24, 1.25, 1.26, 1.27, 1.28, 1.29, 1.3, 1.31,
               1.32, 1.33, 1.34, 1.35, 1.36, 1.37, 1.38, 1.39, 1.4, 1.41,
               1.42, 1.43, 1.44, 1.46, 1.48, 1.5, 1.51, 1.52, 1.53, 1.55,
               1.56, 1.57, 1.58, 1.6, 1.61, 1.62, 1.63, 1.65, 1.66, 1.68,
               1.7, 1.72, 1.74]
yaw_b_raw = [5, 40, 60, 76, 70, 75, 80, 85, 88, 95,
             92, 98, 96, 100, 95, 98, 105, 120, 115, 110,
             106, 115, 125, 135, 145, 148, 140, 130, 118, 116,
             118, 120, 128, 137, 125, 110, 100, 115, 110, 95,
             100, 93, 90, 86, 88, 87, 87, 85, 80, 77,
             84, 90, 92, 100, 105, 130, 135, 118, 130, 140,
             140, 130, 120, 150, 130, 135, 160, 140, 145, 140,
             138, 145, 137, 135, 140, 155, 160, 148, 150, 155,
             152, 158, 150, 160, 148, 163, 155, 165, 145, 165,
             150, 180, 148, 180, 145, 180, 145, 180, 155, 180,
             150, 180, 145, 180, 160, 180, 148, 180, 150, 180,
             148, 180, 155, 180, 150, 180, 145, 180, 148, 180,
             150, 180, 145, 180, 150, 180, 145, 180, 138, 160,
             155, 168, 158, 156, 155, 140, 135, 125, 120, 125,
             135, 148, 150, 145, 140, 135, 145, 150, 155, 162,
             165, 170, 178]

series_names = ['GT', 'CalibNet', 'GyroNet', 'Raw IMU']
colors = ['#0000ff', '#ff0000', '#46a82a', '#ff8a00']
xtick_vals = [0, 0.2, 0.4, 0.6, 0.8, 1.0, 1.2, 1.4, 1.6]
xtick_text = ['0', '0.2', '0.4', '0.6', '0.8', '1', '1.2', '1.4', '1.6']

# ---------------- figure ----------------
plt.rcParams['font.family'] = ['Liberation Sans', 'DejaVu Sans']
W, H = 1357, 1096
fig = plt.figure(figsize=(W / 100, H / 100), dpi=100)


def px_axes(left, top, right, bottom):
    return fig.add_axes([left / W, 1 - bottom / H, (right - left) / W, (bottom - top) / H])


def draw_panel(ax, t_est, gt, calib, gyro, t_raw, raw, ylim, yticks, xmax, ylabel):
    ax.plot(t_est, gt, color=colors[0], lw=1.1)
    ax.plot(t_est, calib, color=colors[1], lw=1.1)
    ax.plot(t_est, gyro, color=colors[2], lw=1.1)
    ax.plot(t_raw, raw, color=colors[3], lw=1.5)
    ax.set_xlim(0, xmax)
    ax.set_ylim(*ylim)
    ax.set_xticks(xtick_vals)
    ax.set_xticklabels(xtick_text)
    ax.set_yticks(yticks)
    ax.grid(True, color='#e6e6e6', lw=0.8)
    ax.set_axisbelow(True)
    ax.tick_params(direction='in', top=True, right=True, length=5, width=0.8,
                   color='#8a8a8a', labelsize=9.5, pad=4)
    for lab in ax.get_xticklabels() + ax.get_yticklabels():
        lab.set_fontweight('bold')
    for sp in ax.spines.values():
        sp.set_color('#9a9a9a')
        sp.set_linewidth(0.9)
    ax.set_xlabel('t(min)', fontsize=10, fontweight='bold', labelpad=2)
    ax.set_ylabel(ylabel, fontsize=10, fontweight='bold', labelpad=2)


# background for frame and caption
bg = fig.add_axes([0, 0, 1, 1], zorder=-1)
bg.axis('off')
bg.set_xlim(0, 1)
bg.set_ylim(0, 1)
bg.add_patch(Rectangle((8 / W, -0.05), (1353 - 8) / W, 1.05 - 7 / H, fill=False,
                       edgecolor='#7a7a7a', lw=1.2))

ax1 = px_axes(117, 77, 659, 316)
draw_panel(ax1, t_roll_a, roll_a_gt, roll_a_calib, roll_a_gyro, t_roll_a_raw, roll_a_raw,
           (100, 185.4), [100, 120, 140, 160, 180], 1.649, 'Roll(deg)')
ax2 = px_axes(117, 385, 659, 622)
draw_panel(ax2, t_pitch_a, pitch_a_gt, pitch_a_calib, pitch_a_gyro, t_pitch_a_raw, pitch_a_raw,
           (0, 100), [0, 20, 40, 60, 80, 100], 1.649, 'Pitch(deg)')
ax3 = px_axes(117, 686, 659, 923)
draw_panel(ax3, t_yaw_a, yaw_a_gt, yaw_a_calib, yaw_a_gyro, t_yaw_a_raw, yaw_a_raw,
           (0, 200), [0, 50, 100, 150, 200], 1.649, 'Yaw(deg)')
ax4 = px_axes(750, 80, 1285, 315)
draw_panel(ax4, t_roll_b, roll_b_gt, roll_b_calib, roll_b_gyro, t_roll_b_raw, roll_b_raw,
           (0, 200), [0, 50, 100, 150, 200], 1.649, 'Roll(deg)')
ax5 = px_axes(746, 384, 1282, 618)
draw_panel(ax5, t_pitch_b, pitch_b_gt, pitch_b_calib, pitch_b_gyro, t_pitch_b_raw, pitch_b_raw,
           (0, 100), [0, 20, 40, 60, 80, 100], 1.649, 'Pitch(deg)')
ax6 = px_axes(744, 682, 1280, 915)
draw_panel(ax6, t_yaw_b, yaw_b_gt, yaw_b_calib, yaw_b_gyro, t_yaw_b_raw, yaw_b_raw,
           (0, 200), [0, 50, 100, 150, 200], 1.736, 'Yaw(deg)')

# legends above each column
handles = [Line2D([], [], color=c, lw=1.4) for c in colors]
for (l, t, r, b) in [(117, 25, 610, 60), (750, 30, 1238, 65)]:
    fig.legend(handles, series_names, loc='center',
               bbox_to_anchor=(l / W, 1 - b / H, (r - l) / W, (b - t) / H),
               bbox_transform=fig.transFigure, mode='expand', ncol=4,
               fancybox=False, edgecolor='#a8a8a8', framealpha=1,
               prop={'weight': 'bold', 'size': 10}, handlelength=2.9,
               handletextpad=0.05, borderpad=0.75, borderaxespad=0)

fig.text(85 / W, 1 - 36 / H, 'A', fontsize=17, fontweight='bold', ha='center', va='center')
fig.text(705 / W, 1 - 36 / H, 'B', fontsize=17, fontweight='bold', ha='center', va='center')

fig.text(392 / W, 1 - 993 / H, 'MH_04_difficult', family='Liberation Serif', fontsize=22,
         ha='center', va='center')
fig.text(1021 / W, 1 - 993 / H, 'V1_03_difficult', family='Liberation Serif', fontsize=22,
         ha='center', va='center')

# caption with mixed weights
cap_size = 12.7
pieces = [('FIGURE 4 |', 'bold'),
          (' Plots of estimated orientations with different methods. ', 'normal'),
          ('(A)', 'bold'),
          (' Estimated orientation for MH_04_difficult with different methods. ', 'normal'),
          ('(B)', 'bold'),
          (' Estimated orientation', 'normal')]
prev = bg.text(25 / W, 1 - 1064 / H, pieces[0][0], fontsize=cap_size, fontweight=pieces[0][1],
               color='#231f20', va='bottom', ha='left')
for s, w in pieces[1:]:
    prev = bg.annotate(s, xy=(1, 0), xycoords=prev, fontsize=cap_size, fontweight=w,
                       color='#231f20', va='bottom', ha='left')
bg.text(25 / W, 1 - 1090 / H, 'for V1_03_difficult with different learning-based methods.',
        fontsize=cap_size, color='#231f20', va='bottom', ha='left')

fig.savefig('out.png', dpi=100)
